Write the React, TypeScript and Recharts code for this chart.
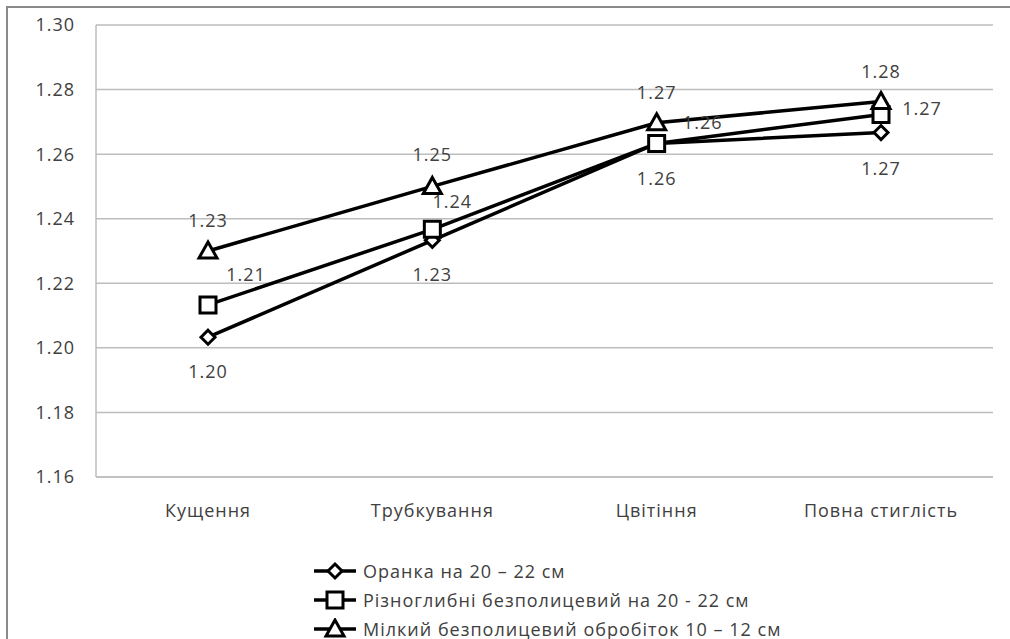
import React from "react";
import {
  CartesianGrid,
  LabelList,
  Legend,
  Line,
  LineChart,
  XAxis,
  YAxis,
} from "recharts";

// growth stages along the x axis
const stages = ["Кущення", "Трубкування", "Цвітіння", "Повна стиглість"];

// soil density by tillage method, g/cm³
const ploughing = [1.2033, 1.2333, 1.2633, 1.2667];
const varDepth = [1.2133, 1.2367, 1.2633, 1.2723];
const shallow = [1.23, 1.25, 1.2697, 1.2763];

const seriesNames = [
  "Оранка на 20 – 22 см",
  "Різноглибні безполицевий на 20 - 22 см",
  "Мілкий безполицевий обробіток 10 – 12 см",
];

const yTicks = [1.16, 1.18, 1.2, 1.22, 1.24, 1.26, 1.28, 1.3];

const rows = stages.map((stage, i) => ({
  stage,
  ploughing: ploughing[i],
  varDepth: varDepth[i],
  shallow: shallow[i],
}));

const FONT = "'Open Sans', 'Noto Sans', sans-serif";
const TEXT = "#404040";
const textStyle = { fontFamily: FONT, fontSize: 18, letterSpacing: 1, fill: TEXT };

// label offsets (dx, dy) relative to each point
const belowShift = [[0, 34], [0, 34], [0, 35], [0, 35]];
const sideShift = [[38, -31], [20, -28], [46, -21], [41, -6]];
const aboveShift = [[0, -31], [0, -32], [0, -31], [0, -31]];

const makeLabel = (shift: number[][]) => (props: any) => {
  const { x, y, value, index } = props;
  const [dx, dy] = shift[index] ?? [0, 0];
  return (
    <text
      x={x + dx}
      y={y + dy}
      textAnchor="middle"
      dominantBaseline="central"
      style={textStyle}
    >
      {Number(value).toFixed(2)}
    </text>
  );
};

type Shape = "diamond" | "square" | "triangle";

const markerPath = (shape: Shape, cx: number, cy: number) => {
  if (shape === "diamond") {
    const r = 7;
    return `M${cx},${cy - r}L${cx + r},${cy}L${cx},${cy + r}L${cx - r},${cy}Z`;
  }
  if (shape === "square") {
    const r = 8;
    return `M${cx - r},${cy - r}H${cx + r}V${cy + r}H${cx - r}Z`;
  }
  return `M${cx},${cy - 9}L${cx + 9},${cy + 7}H${cx - 9}Z`;
};

const makeDot = (shape: Shape) => (props: any) => {
  const { cx, cy, index } = props;
  if (cx == null || cy == null) return <g key={index} />;
  return (
    <path
      key={index}
      d={markerPath(shape, cx, cy)}
      fill="#fff"
      stroke="#000"
      strokeWidth={3}
      strokeLinejoin="miter"
    />
  );
};

const shapes: Shape[] = ["diamond", "square", "triangle"];

const renderLegend = () => (
  <div
    style={{ fontFamily: FONT, fontSize: 18, letterSpacing: 1, color: TEXT }}
  >
    {seriesNames.map((name, i) => (
      <div
        key={name}
        style={{
          display: "flex",
          alignItems: "center",
          height: 29,
          whiteSpace: "nowrap",
        }}
      >
        <svg width={44} height={22} style={{ marginRight: 6 }}>
          <line x1={1} y1={11} x2={43} y2={11} stroke="#000" strokeWidth={3.5} />
          <path
            d={markerPath(shapes[i], 22, 11)}
            fill="#fff"
            stroke="#000"
            strokeWidth={3}
          />
        </svg>
        <span>{name}</span>
      </div>
    ))}
  </div>
);

export default function App() {
  return (
    <div
      style={{
        position: "absolute",
        left: 0,
        top: 0,
        width: 1010,
        height: 639,
        background: "#fff",
        overflow: "hidden",
      }}
    >
      <div
        style={{
          position: "absolute",
          left: 6,
          top: 6,
          width: 1020,
          height: 660,
          border: "2px solid #8a8a8a",
          boxSizing: "border-box",
        }}
      />
      <LineChart
        width={1010}
        height={639}
        data={rows}
        margin={{ top: 25, right: 17, left: 36, bottom: 122 }}
        style={{ position: "absolute", left: 0, top: 0 }}
      >
        <CartesianGrid vertical={false} stroke="#bdbdbd" strokeWidth={1.5} />
        <XAxis
          dataKey="stage"
          padding={{ left: 112, right: 112 }}
          axisLine={{ stroke: "#bdbdbd", strokeWidth: 1.5 }}
          tickLine={false}
          tickSize={0}
          tickMargin={27}
          height={40}
          tick={textStyle}
        />
        <YAxis
          domain={[1.16, 1.3]}
          ticks={yTicks}
          width={60}
          tickFormatter={(v: number) => v.toFixed(2)}
          axisLine={{ stroke: "#bdbdbd", strokeWidth: 1.5 }}
          tickLine={false}
          tickSize={0}
          tickMargin={21}
          tick={textStyle}
        />
        <Legend
          layout="vertical"
          verticalAlign="middle"
          align="center"
          content={renderLegend}
          wrapperStyle={{ left: 313, top: 556, width: 600 }}
        />
        <Line
          dataKey="ploughing"
          name={seriesNames[0]}
          stroke="#000"
          strokeWidth={3.5}
          dot={makeDot("diamond")}
          isAnimationActive={false}
        >
          <LabelList dataKey="ploughing" content={makeLabel(belowShift)} />
        </Line>
        <Line
          dataKey="varDepth"
          name={seriesNames[1]}
          stroke="#000"
          strokeWidth={3.5}
          dot={makeDot("square")}
          isAnimationActive={false}
        >
          <LabelList dataKey="varDepth" content={makeLabel(sideShift)} />
        </Line>
        <Line
          dataKey="shallow"
          name={seriesNames[2]}
          stroke="#000"
          strokeWidth={3.5}
          dot={makeDot("triangle")}
          isAnimationActive={false}
        >
          <LabelList dataKey="shallow" content={makeLabel(aboveShift)} />
        </Line>
      </LineChart>
    </div>
  );
}
